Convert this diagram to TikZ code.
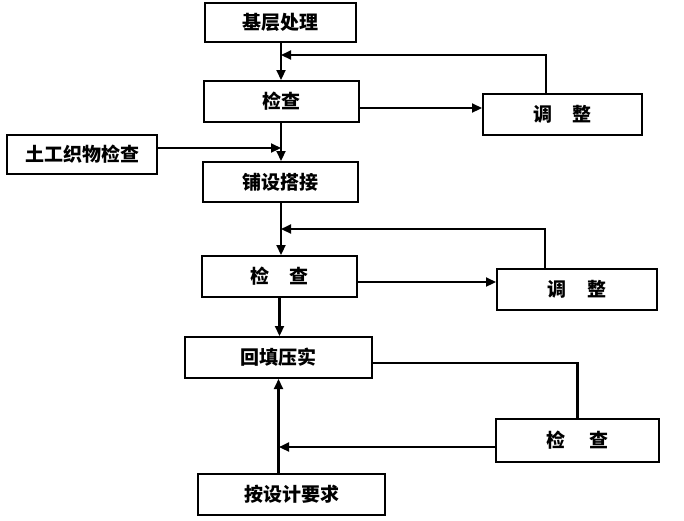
\documentclass[tikz,border=0pt]{standalone}
\usepackage{fontspec}
\newfontfamily\cjk{Noto Sans CJK SC}
\usetikzlibrary{arrows.meta}
\begin{document}
\begin{tikzpicture}[x=1pt,y=-1pt,
  box/.style={draw,line width=2pt,inner sep=0pt,font=\cjk\bfseries\fontsize{19}{22}\selectfont},
  link/.style={line width=2.2pt},
  arr/.style={line width=2.2pt,-{Triangle[length=10pt,width=9pt]}}]
\useasboundingbox (0,0) rectangle (684,520);
\node[box,minimum width=151,minimum height=39] (b1) at (280.5,22.5) {基层处理};
\node[box,minimum width=155,minimum height=41] (c1) at (281.5,101.5) {检查};
\node[box,minimum width=159,minimum height=41] (a1) at (562.5,114.5) {调\hspace{1.1em}整};
\node[box,minimum width=150,minimum height=39] (g) at (82,154.5) {土工织物检查};
\node[box,minimum width=155,minimum height=40] (p) at (280.5,182) {铺设搭接};
\node[box,minimum width=155,minimum height=41] (c2) at (279.5,276.5) {检\hspace{1.1em}查};
\node[box,minimum width=160,minimum height=41] (a2) at (577,289.5) {调\hspace{1.1em}整};
\node[box,minimum width=187,minimum height=41] (h) at (278.5,357.5) {回填压实};
\node[box,minimum width=163,minimum height=43] (c3) at (577.5,440.5) {检\hspace{1.3em}查};
\node[box,minimum width=187,minimum height=41] (r) at (291.5,494.5) {按设计要求};
\coordinate (j1) at (281,55);
\coordinate (j2) at (281,148);
\coordinate (j3) at (281,229);
\coordinate (j4) at (279,447);
% main flow
\draw[arr] (b1.south -| j1) -- (c1.north -| j1);
\draw[arr] (c1.south -| j2) -- (p.north -| j2);
\draw[arr] (p.south -| j3) -- (c2.north -| j3);
\draw[arr] (c2.south) -- (c2.south |- h.north);
\draw[arr] (h.south |- r.north) -- (h.south);
% side branches
\draw[arr] (c1.east |- 0,108) -- (a1.west |- 0,108);
\draw[arr] ([xshift=-16.5pt]a1.north) |- (j1);
\draw[arr] (g.east |- j2) -- (j2);
\draw[arr] (c2.east |- 0,282) -- (a2.west |- 0,282);
\draw[arr] ([xshift=-32pt]a2.north) |- (j3);
\draw[link] (h.east |- 0,363) -| (c3.north);
\draw[arr] (c3.west |- j4) -- (j4);
\end{tikzpicture}
\end{document}
